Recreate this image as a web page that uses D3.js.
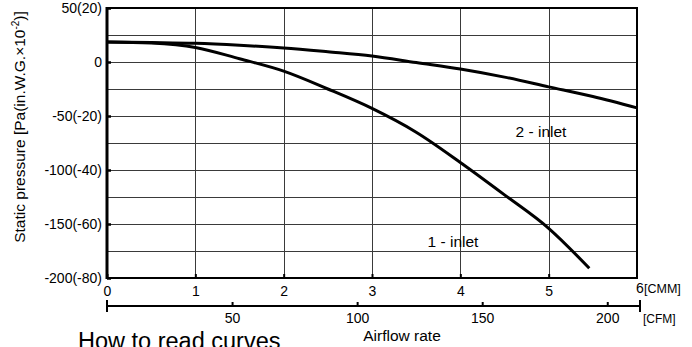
<!DOCTYPE html>
<html>
<head>
<meta charset="utf-8">
<script src="https://cdn.jsdelivr.net/npm/d3@7/dist/d3.min.js"></script>
<style>
  body { margin: 0; background: #fff; }
  svg { display: block; font-family: "Liberation Sans", Arial, sans-serif; }
  .axis text { font-size: 14px; fill: #000; }
</style>
</head>
<body>
<svg id="chart" width="692" height="347"></svg>
<script>
// airflow (CMM) / static pressure (Pa)
const inlet1Cmm = [0, 0.5, 1, 1.5, 2, 2.5, 3, 3.5, 4, 4.5, 5, 5.46];
const inlet1Pa  = [18.5, 17.5, 13.5, 3, -8.5, -25, -43, -65, -93, -123, -154, -191];
const inlet2Cmm = [0, 0.5, 1, 1.5, 2, 2.5, 3, 3.5, 4, 4.5, 5, 5.5, 6];
const inlet2Pa  = [18.5, 18, 17.3, 15.5, 13, 9.5, 5.6, -0.5, -6.5, -14, -23, -32, -42.5];

const yTicks = [50, 0, -50, -100, -150, -200];
const yTickLabels = ['50(20)', '0', '-50(-20)', '-100(-40)', '-150(-60)', '-200(-80)'];
const yGrid = d3.range(-200, 51, 25);
const cmmTicks = [0, 1, 2, 3, 4, 5];
const cfmTicks = [50, 100, 150, 200];
const CFM_PER_CMM = 35.315;

const svg = d3.select('#chart');
const m = { left: 107, right: 637, top: 8, bottom: 278 };

const x = d3.scaleLinear().domain([0, 6]).range([m.left, m.right]);
const y = d3.scaleLinear().domain([-200, 50]).range([m.bottom, m.top]);
const xCfm = d3.scaleLinear().domain([0, 6 * CFM_PER_CMM]).range([m.left, m.right]);

// grid
const grid = svg.append('g').attr('stroke', '#3a3a3a').attr('stroke-width', 1);
grid.selectAll('.hg').data(yGrid).join('line')
  .attr('x1', m.left).attr('x2', m.right)
  .attr('y1', d => Math.round(y(d)) + 0.5).attr('y2', d => Math.round(y(d)) + 0.5);
grid.selectAll('.vg').data(d3.range(1, 6)).join('line')
  .attr('y1', m.top).attr('y2', m.bottom)
  .attr('x1', d => Math.round(x(d)) + 0.5).attr('x2', d => Math.round(x(d)) + 0.5);

// y axis
const yAxis = svg.append('g').attr('class', 'axis')
  .attr('transform', `translate(${m.left},0)`)
  .call(d3.axisLeft(y).tickValues(yTicks).tickSize(-4).tickPadding(5)
    .tickFormat((d, i) => yTickLabels[i]));
yAxis.select('.domain').remove();
yAxis.selectAll('.tick line').attr('stroke', '#000').attr('stroke-width', 2.5);

// cmm axis
const xAxis = svg.append('g').attr('class', 'axis')
  .attr('transform', `translate(0,${m.bottom})`)
  .call(d3.axisBottom(x).tickValues(cmmTicks).tickSize(-4).tickPadding(8)
    .tickFormat(d3.format('d')));
xAxis.select('.domain').remove();
xAxis.selectAll('.tick line').attr('stroke', '#000').attr('stroke-width', 2);

svg.append('text').attr('x', m.right - 1).attr('y', 293)
  .attr('font-size', 14).text('6');
svg.append('text').attr('x', m.right + 7).attr('y', 293)
  .attr('font-size', 12.5).text('[CMM]');

// frame
svg.append('rect')
  .attr('x', m.left).attr('y', m.top)
  .attr('width', m.right - m.left).attr('height', m.bottom - m.top)
  .attr('fill', 'none').attr('stroke', '#000').attr('stroke-width', 2);
svg.append('line').attr('x1', m.left).attr('x2', m.left)
  .attr('y1', m.top - 1).attr('y2', m.bottom + 1)
  .attr('stroke', '#000').attr('stroke-width', 3);

// cfm axis
const cfmY = 306;
const cfmAxis = svg.append('g').attr('class', 'axis')
  .attr('transform', `translate(0,${cfmY})`)
  .call(d3.axisBottom(xCfm).tickValues(cfmTicks).tickSize(-4).tickPadding(7)
    .tickFormat(d3.format('d')));
cfmAxis.select('.domain').remove();
cfmAxis.selectAll('.tick line').attr('stroke', '#000').attr('stroke-width', 2);
svg.append('line').attr('x1', m.left).attr('x2', 640)
  .attr('y1', cfmY).attr('y2', cfmY)
  .attr('stroke', '#000').attr('stroke-width', 2);
svg.selectAll('.cfmEnd').data([m.left, 640]).join('line')
  .attr('x1', d => d).attr('x2', d => d)
  .attr('y1', cfmY - 6).attr('y2', cfmY + 6)
  .attr('stroke', '#000').attr('stroke-width', 2);
svg.append('text').attr('x', 643).attr('y', 323)
  .attr('font-size', 12).text('[CFM]');

// curves
const line = d3.line().x(d => x(d[0])).y(d => y(d[1])).curve(d3.curveMonotoneX);
[[inlet1Cmm, inlet1Pa], [inlet2Cmm, inlet2Pa]].forEach(([xs, ys]) => {
  svg.append('path')
    .datum(xs.map((v, i) => [v, ys[i]]))
    .attr('d', line)
    .attr('fill', 'none').attr('stroke', '#000').attr('stroke-width', 3)
    .attr('stroke-linejoin', 'round');
});

// curve labels
svg.append('text').attr('x', 541).attr('y', 137).attr('text-anchor', 'middle')
  .attr('font-size', 15.5).text('2 - inlet');
svg.append('text').attr('x', 453).attr('y', 247).attr('text-anchor', 'middle')
  .attr('font-size', 15.5).text('1 - inlet');

// axis titles
svg.append('text').attr('x', 402).attr('y', 341).attr('text-anchor', 'middle')
  .attr('font-size', 15.5).text('Airflow rate');

const yt = svg.append('text')
  .attr('transform', 'translate(25,127) rotate(-90)')
  .attr('text-anchor', 'middle').attr('font-size', 15.5);
yt.append('tspan').text('Static pressure [Pa(in.W.G.×10');
yt.append('tspan').attr('font-size', 10).attr('dy', -6).text('-2');
yt.append('tspan').attr('dy', 6).text(')]');

svg.append('text').attr('x', 78).attr('y', 349)
  .attr('font-size', 23.5).text('How to read curves');
</script>
</body>
</html>
